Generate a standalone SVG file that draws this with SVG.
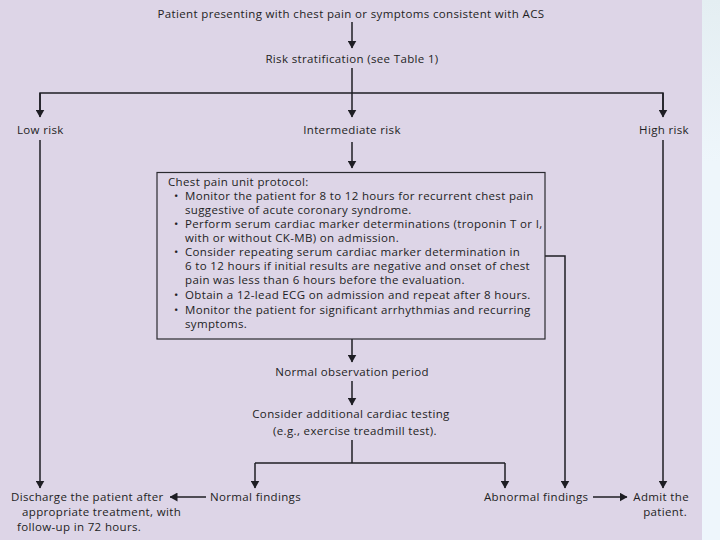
<svg xmlns="http://www.w3.org/2000/svg" width="720" height="540" viewBox="0 0 720 540">
<defs>
<marker id="ah" markerWidth="8" markerHeight="9" refX="7.5" refY="4.5" orient="auto" markerUnits="userSpaceOnUse">
<path d="M0,0 L8,4.5 L0,9 Z" fill="#1e1e24"/>
</marker>
<linearGradient id="side" x1="0" y1="0" x2="0" y2="1">
<stop offset="0" stop-color="#e4eef2"/>
<stop offset="0.3" stop-color="#eef6fb"/>
<stop offset="1" stop-color="#eef6fc"/>
</linearGradient>
</defs>
<style>
text{font-family:"Open Sans","Liberation Sans",Arial,sans-serif;font-size:11.5px;letter-spacing:0.35px;fill:#1e1e24}
.c{text-anchor:middle}
.r{text-anchor:end}
.ln{fill:none;stroke:#1e1e24;stroke-width:1.5}
.ar{fill:none;stroke:#1e1e24;stroke-width:1.5;marker-end:url(#ah)}
</style>
<rect x="0" y="0" width="720" height="540" fill="url(#side)"/>
<rect x="0" y="0" width="702" height="540" fill="#ddd5e7"/>

<g id="connectors">
<line class="ar" x1="352" y1="22" x2="352" y2="48"/>
<line class="ln" x1="352" y1="68" x2="352" y2="93"/>
<polyline class="ln" points="40,116 40,93 663,93 663,116"/>
<line class="ar" x1="40" y1="93" x2="40" y2="117"/>
<line class="ar" x1="352" y1="93" x2="352" y2="117"/>
<line class="ar" x1="663" y1="93" x2="663" y2="117"/>
<line class="ar" x1="352" y1="142" x2="352" y2="168"/>
<line class="ar" x1="352" y1="339" x2="352" y2="362"/>
<line class="ar" x1="352" y1="381" x2="352" y2="405"/>
<line class="ln" x1="352" y1="440" x2="352" y2="463"/>
<line class="ln" x1="255" y1="463" x2="505" y2="463"/>
<line class="ar" x1="255" y1="463" x2="255" y2="488"/>
<line class="ar" x1="505" y1="463" x2="505" y2="488"/>
<polyline class="ar" points="545,256 565,256 565,488"/>
<line class="ar" x1="40" y1="140" x2="40" y2="488"/>
<line class="ar" x1="663" y1="140" x2="663" y2="488"/>
<line class="ar" x1="206" y1="497" x2="170" y2="497"/>
<line class="ar" x1="593" y1="497" x2="627" y2="497"/>
</g>

<g id="start"><text class="c" x="351" y="18">Patient presenting with chest pain or symptoms consistent with ACS</text></g>
<g id="risk"><text class="c" x="352" y="63">Risk stratification (see Table 1)</text></g>
<g id="low"><text x="17" y="134">Low risk</text></g>
<g id="intermediate"><text class="c" x="352" y="134">Intermediate risk</text></g>
<g id="high"><text class="r" x="689" y="134">High risk</text></g>

<g id="protocol">
<rect x="157" y="172.5" width="388" height="166.5" fill="#ddd5e7" stroke="#2a2a30" stroke-width="1.2"/>
<text x="168" y="186">Chest pain unit protocol:</text>
<text x="174" y="200">•</text><text x="185" y="200">Monitor the patient for 8 to 12 hours for recurrent chest pain</text>
<text x="185" y="214">suggestive of acute coronary syndrome.</text>
<text x="174" y="228">•</text><text x="185" y="228">Perform serum cardiac marker determinations (troponin T or I,</text>
<text x="185" y="242">with or without CK-MB) on admission.</text>
<text x="174" y="256">•</text><text x="185" y="256">Consider repeating serum cardiac marker determination in</text>
<text x="185" y="270">6 to 12 hours if initial results are negative and onset of chest</text>
<text x="185" y="284">pain was less than 6 hours before the evaluation.</text>
<text x="174" y="299">•</text><text x="185" y="299">Obtain a 12-lead ECG on admission and repeat after 8 hours.</text>
<text x="174" y="314">•</text><text x="185" y="314">Monitor the patient for significant arrhythmias and recurring</text>
<text x="185" y="328">symptoms.</text>
</g>

<g id="observation"><text class="c" x="352" y="376">Normal observation period</text></g>
<g id="testing">
<text class="c" x="351" y="418">Consider additional cardiac testing</text>
<text class="c" x="355" y="435">(e.g., exercise treadmill test).</text>
</g>
<g id="normal"><text x="210" y="501">Normal findings</text></g>
<g id="abnormal"><text x="484" y="501">Abnormal findings</text></g>
<g id="discharge">
<text x="11" y="501" letter-spacing="0.25">Discharge the patient after</text>
<text x="22" y="516">appropriate treatment, with</text>
<text x="17" y="531">follow-up in 72 hours.</text>
</g>
<g id="admit">
<text class="r" x="689" y="501">Admit the</text>
<text class="r" x="687" y="516">patient.</text>
</g>
</svg>
